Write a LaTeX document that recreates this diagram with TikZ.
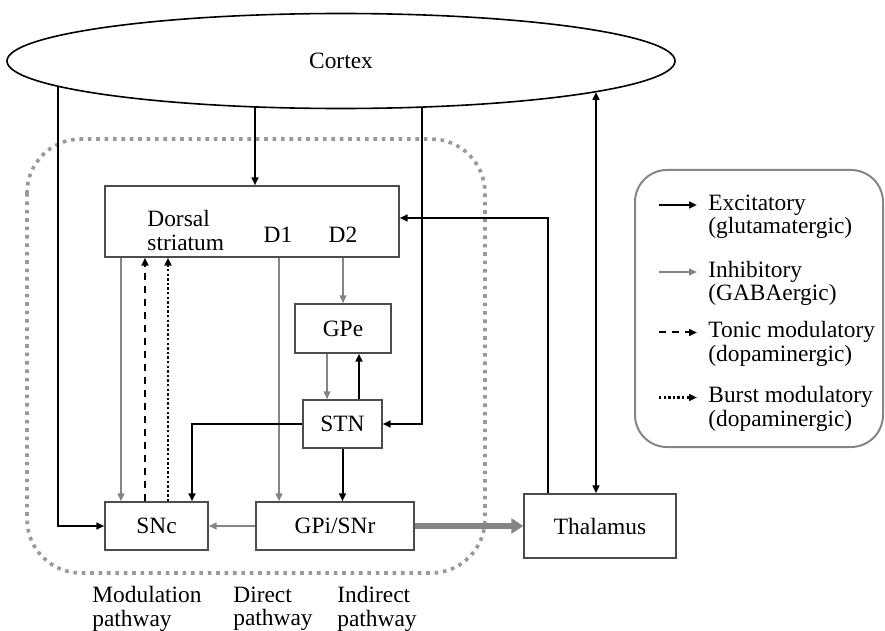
\documentclass[tikz,border=0pt]{standalone}
\usepackage{fontspec}
\setmainfont{Liberation Serif}
\usetikzlibrary{arrows.meta,shapes.geometric}
\definecolor{inhgray}{gray}{0.52}
\definecolor{framegray}{gray}{0.6}
\definecolor{boxline}{gray}{0.3}
\tikzset{
  area/.style={draw=boxline, line width=0.7pt, inner sep=0pt},
  tip/.style={-{Triangle[length=4pt,width=3.4pt]}},
  exc/.style={tip, line width=1pt, black},
  inh/.style={tip, line width=0.9pt, inhgray},
  tonic/.style={exc, dash pattern=on 3.5pt off 3pt},
  burst/.style={exc, line width=1.2pt, dash pattern=on 1.2pt off 1.1pt},
  lgtext/.style={anchor=west, align=left, inner sep=1pt},
  pathlabel/.style={anchor=west, align=left, inner sep=0pt},
}
\begin{document}
\begin{tikzpicture}[x=0.5pt,y=-0.5pt,font=\fontsize{11.7}{11.6}\selectfont]
    \useasboundingbox (0,0) rectangle (885,631);
    % basal ganglia frame
    \draw[framegray, line width=1.8pt, dash pattern=on 1.8pt off 2.4pt,
          rounded corners=27pt] (27,139) rectangle (485,573);
    % structures
    \node[draw, ellipse, line width=0.8pt, inner sep=0pt,
          minimum width=334pt, minimum height=47.5pt] (cortex) at (341,61) {Cortex};
    \node[area, minimum width=147pt, minimum height=35.5pt] (ds) at (252,221.5) {};
    \node[pathlabel] (dslabel) at (147,230.5) {Dorsal\\striatum};
    \node (d1) at (278,235) {D1};
    \node (d2) at (343,235) {D2};
    \node[area, minimum width=48pt, minimum height=24.5pt] (gpe) at (343,328.5) {GPe};
    \node[area, minimum width=39.5pt, minimum height=24pt] (stn) at (342.5,424) {STN};
    \node[area, minimum width=51.5pt, minimum height=24pt] (snc) at (156.5,526) {SNc};
    \node[area, minimum width=79pt, minimum height=24pt] (gpi) at (335,526) {GPi/SNr};
    \node[area, minimum width=76pt, minimum height=32pt] (thal) at (600,526) {Thalamus};
    % points on the cortex outline
    \coordinate (ctx-snc) at (58,86);
    \coordinate (ctx-ds) at (255,107);
    \coordinate (ctx-stn) at (422,107);
    \coordinate (ctx-thal) at (596,92);
    % inputs along the top of SNc
    \coordinate (snc-a) at ([xshift=-17.75pt]snc.north);
    \coordinate (snc-b) at ([xshift=-5.75pt]snc.north);
    \coordinate (snc-c) at ([xshift=5.75pt]snc.north);
    \coordinate (snc-d) at ([xshift=17.75pt]snc.north);
    \coordinate (gpi-d1) at ([xshift=-28pt]gpi.north);
    \coordinate (gpe-out) at ([xshift=-8pt]gpe.south);
    \coordinate (gpe-in) at ([xshift=8pt]gpe.south);
    \coordinate (thal-ds) at ([xshift=-26pt]thal.north);
    \coordinate (thal-ctx) at ([xshift=-2pt]thal.north);
    % cortical inputs
    \draw[exc] (ctx-ds) -- (ctx-ds |- ds.north);
    \draw[exc] (ctx-snc) |- (snc.west);
    \draw[exc] (ctx-stn) |- (stn.east);
    \draw[exc, {Triangle[length=4pt,width=3.4pt]}-{Triangle[length=4pt,width=3.4pt]}]
      (thal-ctx) -- (ctx-thal);
    \draw[exc] (thal-ds) |- ([yshift=1.75pt]ds.east);
    % striatal outputs
    \draw[inh] (snc-a |- ds.south) -- (snc-a);
    \draw[inh] (gpi-d1 |- ds.south) -- (gpi-d1);
    \draw[inh] (gpe.north |- ds.south) -- (gpe.north);
    % dopamine back to striatum
    \draw[tonic] (snc-b) -- (snc-b |- ds.south);
    \draw[burst] (snc-c) -- (snc-c |- ds.south);
    % indirect loop
    \draw[inh] (gpe-out) -- (gpe-out |- stn.north);
    \draw[exc] (gpe-in |- stn.north) -- (gpe-in);
    \draw[exc] (stn.west) -| (snc-d);
    \draw[exc] (stn.south) -- (stn.south |- gpi.north);
    % output nuclei
    \draw[inh] (gpi.west) -- (snc.east);
    \draw[inhgray, line width=3pt, -{Triangle[length=6pt,width=7.5pt]}] (gpi.east) -- (thal.west);
    % legend
    \node[draw=inhgray, line width=1pt, rounded corners=16pt,
          minimum width=124pt, minimum height=138.5pt] (legend) at (759,308.5) {};
    \node[lgtext] (lg-exc) at (706,216.5) {Excitatory\\(glutamatergic)};
    \node[lgtext] (lg-inh) at (706,283.5) {Inhibitory\\(GABAergic)};
    \node[lgtext] (lg-ton) at (706,344) {Tonic modulatory\\(dopaminergic)};
    \node[lgtext] (lg-bur) at (706,409) {Burst modulatory\\(dopaminergic)};
    \draw[exc] ([xshift=-23.5pt,yshift=5.75pt]lg-exc.west) -- ++(19pt,0);
    \draw[inh] ([xshift=-23.5pt,yshift=5.75pt]lg-inh.west) -- ++(19pt,0);
    \draw[tonic] ([xshift=-23.5pt,yshift=5.75pt]lg-ton.west) -- ++(19pt,0);
    \draw[burst] ([xshift=-23.5pt,yshift=5.75pt]lg-bur.west) -- ++(19pt,0);
    % pathway names
    \node[pathlabel] (modpath) at (92,609) {Modulation\\pathway};
    \node[pathlabel] (dirpath) at (233,609) {Direct\\pathway};
    \node[pathlabel] (indpath) at (337,609) {Indirect\\pathway};
\end{tikzpicture}
\end{document}
